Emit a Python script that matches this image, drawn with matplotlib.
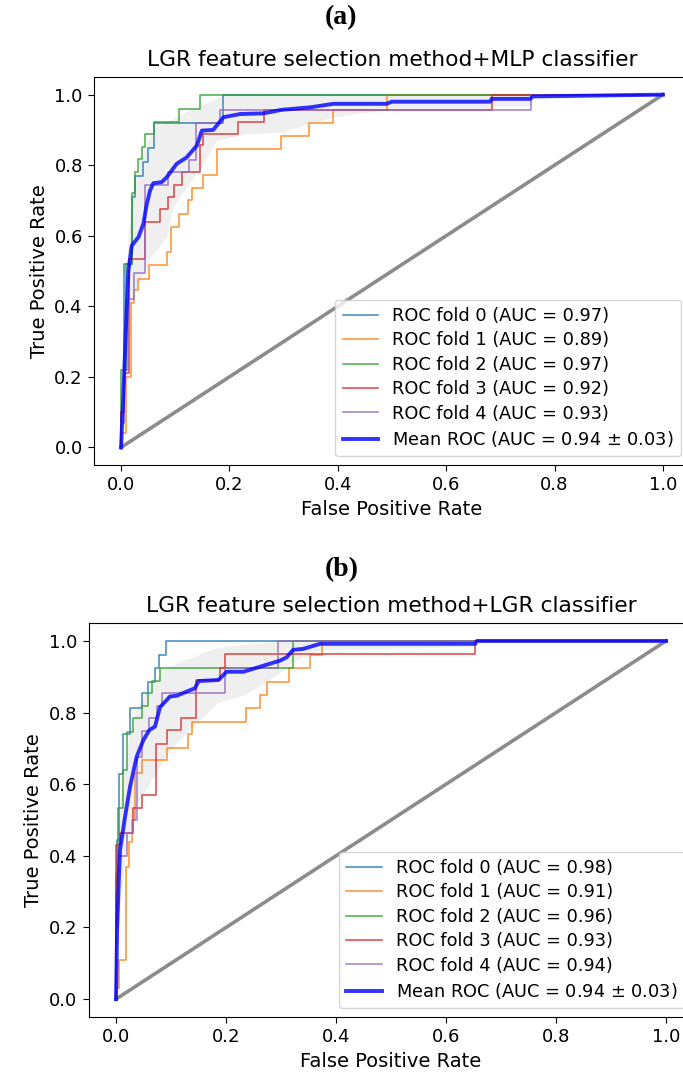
import matplotlib.pyplot as plt

plt.rcParams['font.family'] = ['DejaVu Sans']

# ---- panel (a): LGR feature selection + MLP classifier ----
a_fpr0 = [0, 0, 0.006, 0.006, 0.02, 0.02, 0.026, 0.026, 0.04, 0.04, 0.05, 0.05, 0.06, 0.06, 0.189, 0.189, 1.0]
a_tpr0 = [0, 0.10, 0.10, 0.52, 0.52, 0.71, 0.71, 0.77, 0.77, 0.81, 0.81, 0.85, 0.85, 0.92, 0.92, 1.0, 1.0]
a_fpr1 = [0, 0, 0.01, 0.01, 0.018, 0.018, 0.023, 0.023, 0.032, 0.032, 0.052, 0.052, 0.084, 0.084, 0.092, 0.092,
          0.106, 0.106, 0.124, 0.124, 0.130, 0.130, 0.151, 0.151, 0.177, 0.177, 0.295, 0.295, 0.347, 0.347,
          0.392, 0.392, 0.49, 0.49, 1.0]
a_tpr1 = [0, 0.04, 0.04, 0.20, 0.20, 0.41, 0.41, 0.445, 0.445, 0.478, 0.478, 0.516, 0.516, 0.553, 0.553, 0.624,
          0.624, 0.662, 0.662, 0.700, 0.700, 0.736, 0.736, 0.771, 0.771, 0.846, 0.846, 0.884, 0.884, 0.920,
          0.920, 0.957, 0.957, 1.0, 1.0]
a_fpr2 = [0, 0, 0.01, 0.01, 0.02, 0.02, 0.026, 0.026, 0.032, 0.032, 0.038, 0.038, 0.044, 0.044, 0.06, 0.06,
          0.106, 0.106, 0.146, 0.146, 1.0]
a_tpr2 = [0, 0.22, 0.22, 0.52, 0.52, 0.72, 0.72, 0.78, 0.78, 0.818, 0.818, 0.851, 0.851, 0.889, 0.889, 0.922,
          0.922, 0.959, 0.959, 1.0, 1.0]
a_fpr3 = [0, 0, 0.006, 0.006, 0.015, 0.015, 0.044, 0.044, 0.072, 0.072, 0.086, 0.086, 0.098, 0.098, 0.112,
          0.112, 0.146, 0.146, 0.152, 0.152, 0.216, 0.216, 0.264, 0.264, 0.684, 0.684, 1.0]
a_tpr3 = [0, 0.10, 0.10, 0.21, 0.21, 0.533, 0.533, 0.638, 0.638, 0.676, 0.676, 0.709, 0.709, 0.745, 0.745,
          0.780, 0.780, 0.856, 0.856, 0.889, 0.889, 0.922, 0.922, 0.957, 0.957, 1.0, 1.0]
a_fpr4 = [0, 0, 0.005, 0.005, 0.012, 0.012, 0.023, 0.023, 0.044, 0.044, 0.087, 0.087, 0.126, 0.126, 0.138,
          0.138, 0.183, 0.183, 0.756, 0.756, 1.0]
a_tpr4 = [0, 0.07, 0.07, 0.22, 0.22, 0.42, 0.42, 0.495, 0.495, 0.745, 0.745, 0.78, 0.78, 0.815, 0.815, 0.92,
          0.92, 0.957, 0.957, 1.0, 1.0]
a_mean_fpr = [0, 0.005, 0.01, 0.0135, 0.0197, 0.032, 0.0412, 0.0474, 0.0535, 0.0596, 0.075, 0.0843, 0.1027,
              0.121, 0.140, 0.149, 0.170, 0.189, 0.2196, 0.2626, 0.2965, 0.349, 0.392, 0.49, 0.50, 0.681,
              0.684, 0.755, 0.76, 1.0]
a_mean_tpr = [0, 0.18, 0.38, 0.50, 0.572, 0.596, 0.634, 0.690, 0.728, 0.749, 0.752, 0.766, 0.804, 0.822,
              0.856, 0.898, 0.900, 0.936, 0.945, 0.947, 0.957, 0.964, 0.974, 0.974, 0.980, 0.980, 0.988,
              0.988, 0.995, 1.0]
a_band_fpr = [0, 0.005, 0.0135, 0.02, 0.03, 0.045, 0.0535, 0.06, 0.0843, 0.0935, 0.112, 0.146, 0.1765, 0.19,
              0.232, 0.2965, 0.349, 0.392, 0.49, 0.681, 0.684, 0.755, 0.76, 1.0]
a_band_hi = [0, 0.30, 0.62, 0.70, 0.78, 0.86, 0.885, 0.905, 0.925, 0.93, 0.945, 0.97, 0.99, 1.0,
             1.0, 1.0, 1.0, 1.0, 1.0, 1.0, 1.0, 1.0, 1.0, 1.0]
a_band_lo = [0, 0.10, 0.30, 0.42, 0.46, 0.50, 0.539, 0.55, 0.596, 0.671, 0.719, 0.790, 0.870, 0.875,
             0.889, 0.893, 0.919, 0.936, 0.959, 0.959, 0.968, 0.968, 0.99, 1.0]
a_aucs = [0.97, 0.89, 0.97, 0.92, 0.93]

# ---- panel (b): LGR feature selection + LGR classifier ----
b_fpr0 = [0, 0, 0.002, 0.002, 0.006, 0.006, 0.012, 0.012, 0.0255, 0.0255, 0.0467, 0.0467, 0.0588, 0.0588,
          0.0709, 0.0709, 0.0788, 0.0788, 0.091, 0.091, 1.0]
b_tpr0 = [0, 0.30, 0.30, 0.444, 0.444, 0.628, 0.628, 0.739, 0.739, 0.812, 0.812, 0.854, 0.854, 0.886, 0.886,
          0.924, 0.924, 0.961, 0.961, 1.0, 1.0]
b_fpr1 = [0, 0, 0.005, 0.005, 0.018, 0.018, 0.024, 0.024, 0.0285, 0.0285, 0.0346, 0.0346, 0.0467, 0.0467,
          0.0921, 0.0921, 0.1315, 0.1315, 0.1376, 0.1376, 0.2358, 0.2358, 0.2618, 0.2618, 0.274, 0.274,
          0.315, 0.315, 0.353, 0.353, 0.374, 0.374, 1.0]
b_tpr1 = [0, 0.03, 0.03, 0.11, 0.11, 0.37, 0.37, 0.44, 0.44, 0.50, 0.50, 0.630, 0.630, 0.668, 0.668, 0.702,
          0.702, 0.739, 0.739, 0.775, 0.775, 0.812, 0.812, 0.849, 0.849, 0.886, 0.886, 0.924, 0.924, 0.961,
          0.961, 1.0, 1.0]
b_fpr2 = [0, 0, 0.0042, 0.0042, 0.0127, 0.0127, 0.0194, 0.0194, 0.0315, 0.0315, 0.0467, 0.0467, 0.0588,
          0.0588, 0.065, 0.065, 0.080, 0.080, 0.322, 0.322, 1.0]
b_tpr2 = [0, 0.35, 0.35, 0.533, 0.533, 0.640, 0.640, 0.747, 0.747, 0.784, 0.784, 0.818, 0.818, 0.854, 0.854,
          0.888, 0.888, 0.925, 0.925, 1.0, 1.0]
b_fpr3 = [0, 0, 0.0073, 0.0073, 0.0315, 0.0315, 0.0467, 0.0467, 0.0727, 0.0727, 0.0921, 0.0921, 0.1176,
          0.1176, 0.1455, 0.1455, 0.189, 0.189, 0.198, 0.198, 0.653, 0.653, 1.0]
b_tpr3 = [0, 0.43, 0.43, 0.463, 0.463, 0.533, 0.533, 0.570, 0.570, 0.712, 0.712, 0.751, 0.751, 0.784, 0.784,
          0.891, 0.891, 0.925, 0.925, 0.963, 0.963, 1.0, 1.0]
b_fpr4 = [0, 0, 0.004, 0.004, 0.02, 0.02, 0.0315, 0.0315, 0.0376, 0.0376, 0.0467, 0.0467, 0.0606, 0.0606,
          0.0739, 0.0739, 0.0830, 0.0830, 0.198, 0.198, 0.295, 0.295, 1.0]
b_tpr4 = [0, 0.20, 0.20, 0.40, 0.40, 0.463, 0.463, 0.50, 0.50, 0.677, 0.677, 0.749, 0.749, 0.784, 0.784,
          0.818, 0.818, 0.854, 0.854, 0.925, 0.925, 1.0, 1.0]
b_mean_fpr = [0, 0.002, 0.005, 0.0073, 0.0164, 0.0255, 0.0376, 0.0497, 0.0606, 0.0709, 0.080, 0.0982, 0.1103,
              0.1436, 0.150, 0.1861, 0.2012, 0.2315, 0.2618, 0.298, 0.310, 0.322, 0.3406, 0.3709, 0.653,
              0.656, 1.0]
b_mean_tpr = [0, 0.20, 0.33, 0.416, 0.509, 0.593, 0.677, 0.723, 0.751, 0.761, 0.815, 0.845, 0.847, 0.868,
              0.888, 0.891, 0.914, 0.914, 0.928, 0.945, 0.954, 0.975, 0.978, 0.992, 0.992, 1.0, 1.0]
b_band_fpr = [0, 0.004, 0.0073, 0.012, 0.0164, 0.025, 0.04, 0.06, 0.08, 0.1, 0.12, 0.14, 0.16, 0.1827, 0.2,
              0.2315, 0.274, 0.30, 0.31, 0.3345, 0.371, 0.653, 0.656, 1.0]
b_band_hi = [0, 0.45, 0.55, 0.62, 0.66, 0.75, 0.82, 0.87, 0.91, 0.93, 0.945, 0.955, 0.97, 0.98, 0.985,
             0.99, 0.995, 1.0, 1.0, 1.0, 1.0, 1.0, 1.0, 1.0]
b_band_lo = [0, 0.12, 0.25, 0.33, 0.40, 0.47, 0.55, 0.60, 0.65, 0.70, 0.73, 0.76, 0.79, 0.826, 0.835,
             0.849, 0.886, 0.915, 0.927, 0.951, 0.975, 0.985, 1.0, 1.0]
b_aucs = [0.98, 0.91, 0.96, 0.93, 0.94]

mean_auc_text = "0.94 $\\pm$ 0.03"


def draw_panel(ax, folds, mean_fpr, mean_tpr, band_fpr, band_lo, band_hi, aucs, title):
    for i, (fpr, tpr) in enumerate(folds):
        ax.plot(fpr, tpr, color=f"C{i}", lw=1.2, alpha=0.8,
                label=f"ROC fold {i} (AUC = {aucs[i]:.2f})")
    ax.plot([0, 1], [0, 1], color="grey", lw=2.6, alpha=0.9)
    ax.plot(mean_fpr, mean_tpr, color="b", lw=2.8, alpha=0.8,
            label=f"Mean ROC (AUC = {mean_auc_text})")
    ax.fill_between(band_fpr, band_lo, band_hi, color="grey", alpha=0.12, lw=0)
    ax.set_xlim(-0.05, 1.05)
    ax.set_ylim(-0.05, 1.05)
    ax.set_xticks([0, 0.2, 0.4, 0.6, 0.8, 1.0])
    ax.set_yticks([0, 0.2, 0.4, 0.6, 0.8, 1.0])
    ax.tick_params(labelsize=13, length=4.5)
    ax.set_xlabel("False Positive Rate", fontsize=14)
    ax.set_ylabel("True Positive Rate", fontsize=14)
    ax.set_title(title, fontsize=15.7, pad=8)
    ax.legend(loc="lower right", fontsize=12.8, handlelength=2.0, labelspacing=0.36)


fig = plt.figure(figsize=(6.83, 10.77), dpi=100)
ax1 = fig.add_axes([0.1376, 0.5682, 0.8726, 0.3603])
ax2 = fig.add_axes([0.1296, 0.0557, 0.8858, 0.3658])

draw_panel(ax1, [(a_fpr0, a_tpr0), (a_fpr1, a_tpr1), (a_fpr2, a_tpr2), (a_fpr3, a_tpr3), (a_fpr4, a_tpr4)],
           a_mean_fpr, a_mean_tpr, a_band_fpr, a_band_lo, a_band_hi, a_aucs,
           "LGR feature selection method+MLP classifier")
draw_panel(ax2, [(b_fpr0, b_tpr0), (b_fpr1, b_tpr1), (b_fpr2, b_tpr2), (b_fpr3, b_tpr3), (b_fpr4, b_tpr4)],
           b_mean_fpr, b_mean_tpr, b_band_fpr, b_band_lo, b_band_hi, b_aucs,
           "LGR feature selection method+LGR classifier")

fig.text(0.5, 1 - 18 / 1077, "(a)", ha="center", va="center", fontsize=20,
         fontweight="bold", family="Liberation Serif")
fig.text(0.5, 1 - 570 / 1077, "(b)", ha="center", va="center", fontsize=20,
         fontweight="bold", family="Liberation Serif")

fig.savefig("out.png", dpi=100)
